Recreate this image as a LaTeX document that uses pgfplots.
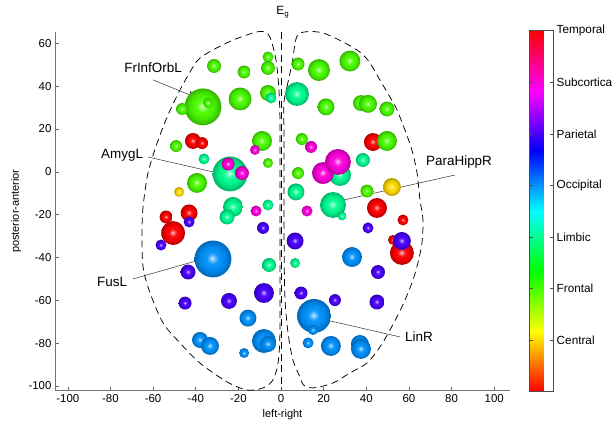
\documentclass[border=0pt]{standalone}
\usepackage{pgfplots}
\pgfplotsset{compat=1.18}
\usepackage{pgfplotstable}
\usepackage{fontspec}
\setmainfont{Liberation Sans}
\usetikzlibrary{arrows.meta}
\usetikzlibrary{plotmarks}

\colorlet{sphc}{red}
\pgfdeclareradialshading[sphc]{sphere}{\pgfpoint{-1bp}{1bp}}{%
  color(0bp)=(sphc!15!white);
  color(3bp)=(sphc!55!white);
  color(8bp)=(sphc!95!white);
  color(17bp)=(sphc!92!black);
  color(25bp)=(sphc!70!black);
  color(50bp)=(sphc!70!black)}
\pgfdeclareplotmark{sphere}{%
  \pgfpathcircle{\pgfpointorigin}{\pgfplotmarksize}%
  \pgfshadepath{sphere}{0}%
  \pgfusepath{}%
}
\tikzset{sph/.code={\colorlet{sphc}{#1}}}

\pgfplotstableread{
x y r c
-36.6 30.3 18.5 2
-23.9 -1.0 17.5 3
-31.9 -40.7 18.5 4
15.5 -67.3 17 4
24.4 -15.5 13 3
27.7 -1.5 11 3
19.7 -0.6 11 6
26.7 4.6 13 6
-50.6 -28.6 12 7
-53.9 -21.1 6.5 7
52.5 -31.8 5 7
56.7 -37.9 12 7
56.7 -32.3 9 5
-8.0 -79.0 12 4
-6.1 -80.4 8 4
-31.4 49.4 7 2
-17.3 46.6 6.5 2
-6.1 53.6 5.5 2
-6.1 48.5 7 2
-34.2 32.1 5 2
-46.4 29.3 6 2
-19.2 34.0 11.5 2
-6.1 36.8 8 2
-4.7 34.5 5.5 3
-49.2 12.0 6 2
-8.9 14.4 10 2
-6.1 4.1 5 2
-39.4 -5.2 10 2
8.0 50.3 6.5 2
17.8 47.5 11 2
32.3 51.7 10.5 2
21.1 30.3 8.5 2
37.5 32.1 8 2
40.8 31.7 9 2
49.7 29.3 7.5 2
9.8 15.3 6 2
43.1 13.9 9 7
49.7 14.4 10 2
8.0 -0.6 6 2
52.0 -7.1 9 1
40.3 -9.0 6.5 2
-36.1 6.0 5.5 3
7.5 36.3 12 3
38.4 5.5 7 3
7.0 -9.4 8.5 3
28.6 -20.6 4.5 3
-22.5 -16.4 10 3
-25.3 -21.1 7.5 3
-6.1 -15.5 5.5 3
-5.6 -43.5 7 3
6.6 -42.6 5 3
-12.2 10.2 5 6
-24.8 3.6 6.5 6
-18.3 -0.6 7 6
14.1 11.6 6 6
-11.7 -18.3 5.5 6
12.2 -18.3 5.5 6
-41.3 14.4 8 7
-37.0 13.4 6 7
45.0 -16.9 10 7
57.2 -22.5 5.5 7
-43.1 -19.2 8.5 7
-47.8 -9.4 5 1
40.8 -26.2 5.5 5
6.6 -32.3 8.5 5
45.5 -46.8 7 5
9.4 -56.6 6.5 5
25.3 -59.9 6 5
45.0 -60.8 7.5 5
-43.1 -23.4 5.5 5
-56.3 -34.2 5.5 5
-43.6 -46.8 7.5 5
-8.4 -26.2 6 5
-8.0 -56.6 10 5
-45.0 -61.3 6.5 5
-24.4 -60.3 8 5
33.3 -39.8 10 4
15.0 -73.9 5 4
12.7 -79.9 5.5 4
23.4 -81.3 10 4
37.0 -80.4 9 4
37.5 -82.7 10 4
-15.5 -68.3 8.5 4
-38.0 -78.5 8 4
-33.3 -81.3 9 4
-17.3 -84.6 5 4
}\nodetable

\begin{document}
\begin{tikzpicture}
\begin{axis}[
  at={(0,0)}, anchor=south west,
  scale only axis, width=455bp, height=359bp,
  xmin=-106, xmax=107.4, ymin=-102.2, ymax=65.4,
  axis x line*=bottom, axis y line*=left,
  axis line style={-, draw=black!55, line width=0.6bp},
  tick align=inside, major tick length=4bp,
  every tick/.style={black!60, line width=0.5bp},
  xtick={-100,-80,...,100}, ytick={-100,-80,...,60},
  tick label style={font=\fontsize{11.5}{13}\selectfont},
  /pgf/number format/assume math mode=true,
  clip=false,
  xlabel={left-right}, ylabel={posterior-anterior},
  every axis x label/.style={at={(axis description cs:0.5,-0.0655)}, anchor=center, font=\fontsize{11}{13}\selectfont},
  every axis y label/.style={at={(axis description cs:-0.0857,0.5)}, anchor=center, rotate=90, font=\fontsize{11}{13}\selectfont},
  colormap={myhsv}{rgb=(1,0,0) rgb=(1,1,0) rgb=(0,1,0) rgb=(0,1,1) rgb=(0,0,1) rgb=(1,0,1) rgb=(1,0,0)},
  point meta min=0, point meta max=7,
  colorbar,
  colorbar style={
    at={(parent axis.north east)}, anchor=north west, xshift=11bp, yshift=1bp,
    scale only axis, width=23.7bp, height=361bp,
    ytick={1,2,3,4,5,6,7},
    yticklabels={Central,Frontal,Limbic,Occipital,Parietal,Subcortical,Temporal},
    yticklabel style={font=\fontsize{11.8}{13}\selectfont},
    tick align=inside, major tick length=3bp,
    every tick/.style={black!70, line width=0.5bp},
    axis line style={draw=black!70, line width=0.5bp},
  },
]
\addplot[scatter, only marks, mark=sphere,
  point meta=explicit,
  visualization depends on={\thisrow{r} \as \rad},
  scatter/use mapped color={sph=mapped color},
  scatter/@pre marker code/.append style={/tikz/mark size=\rad},
] table[x=x, y=y, meta=c] {\nodetable};

% hemisphere outlines
\addplot[black, line width=0.75bp, dash pattern=on 7bp off 4.5bp, smooth cycle, tension=0.5] coordinates {
(-0.5,-75.3) (-0.5,-40) (-0.5,0) (-0.6,30) (-1.9,49.0) (-4.2,60.1) (-6.6,64.8) (-11.3,65.3)
(-22.5,61.5) (-31.9,56.9) (-38.0,53.1) (-41.3,48.9) (-47.4,38.2) (-53.4,25.6) (-58.1,13.4)
(-62.4,-0.6) (-64.7,-16.4) (-65.2,-28.6) (-64.7,-44.4) (-61.4,-56.6) (-55.3,-70.6) (-47.4,-79.9)
(-38.0,-89.3) (-25.3,-98.1) (-15.9,-101.9) (-8.4,-100.9) (-3.8,-97.2) (-1.4,-89.3)
};
\addplot[black, line width=0.75bp, dash pattern=on 7bp off 4.5bp, smooth cycle, tension=0.5] coordinates {
(1.4,32.1) (2.8,39.6) (5.2,50.8) (7.4,63.1) (12.0,65.4) (19.7,64.8) (29.1,60.6) (37.0,55.9)
(41.7,50.8) (46.4,42.8) (51.1,34.9) (54.4,28.9) (58.1,19.5) (61.4,10.2) (63.8,-0.6) (65.2,-13.2)
(66.6,-22.5) (66.1,-33.2) (64.2,-42.6) (61.4,-51.9) (56.7,-63.1) (51.1,-73.9) (46.4,-81.8)
(40.3,-89.3) (32.3,-93.9) (24.4,-98.6) (15.0,-100.9) (10.5,-99.5) (8.9,-95.8) (5.6,-87.9)
(3.3,-75.3) (1.9,-59.9) (1.5,-40) (1.4,-10) (1.4,15)
};
\addplot[black, line width=0.75bp, dash pattern=on 7bp off 4.5bp] coordinates {(0.3,65.4) (0.3,-101.5)};

% annotations
\draw[black!80, line width=0.5bp, -{Stealth[length=9bp,width=7bp,black]}] (axis cs:-60,42.9) -- (axis cs:-39.4,34.5);
\node[font=\fontsize{13.5}{15}\selectfont] at (axis cs:-60,48.5) {FrInfOrbL};
\draw[black!80, line width=0.5bp, -{Stealth[length=9bp,width=7bp,black]}] (axis cs:-62.4,6.9) -- (axis cs:-27.7,-1.0);
\node[font=\fontsize{13.5}{15}\selectfont] at (axis cs:-74.5,7.8) {AmygL};
\draw[black!80, line width=0.5bp, -{Stealth[length=9bp,width=7bp,black]}] (axis cs:81.6,-1.5) -- (axis cs:25.3,-14.1);
\node[font=\fontsize{13.5}{15}\selectfont] at (axis cs:83.5,4.6) {ParaHippR};
\draw[black!80, line width=0.5bp, -{Stealth[length=9bp,width=7bp,black]}] (axis cs:-69.4,-50.0) -- (axis cs:-34.7,-40.2);
\node[font=\fontsize{13.5}{15}\selectfont] at (axis cs:-79.2,-51.4) {FusL};
\draw[black!80, line width=0.5bp, -{Stealth[length=9bp,width=7bp,black]}] (axis cs:55.8,-77.1) -- (axis cs:17.3,-68.3);
\node[font=\fontsize{13.5}{15}\selectfont] at (axis cs:64.7,-77.1) {LinR};
\node[font=\fontsize{12}{14}\selectfont] at (axis cs:0.9,74.6) {E\textsubscript{g}};
\end{axis}
\pgfresetboundingbox
\useasboundingbox (-55bp,-34.3bp) rectangle (557bp,390.7bp);
\end{tikzpicture}
\end{document}
